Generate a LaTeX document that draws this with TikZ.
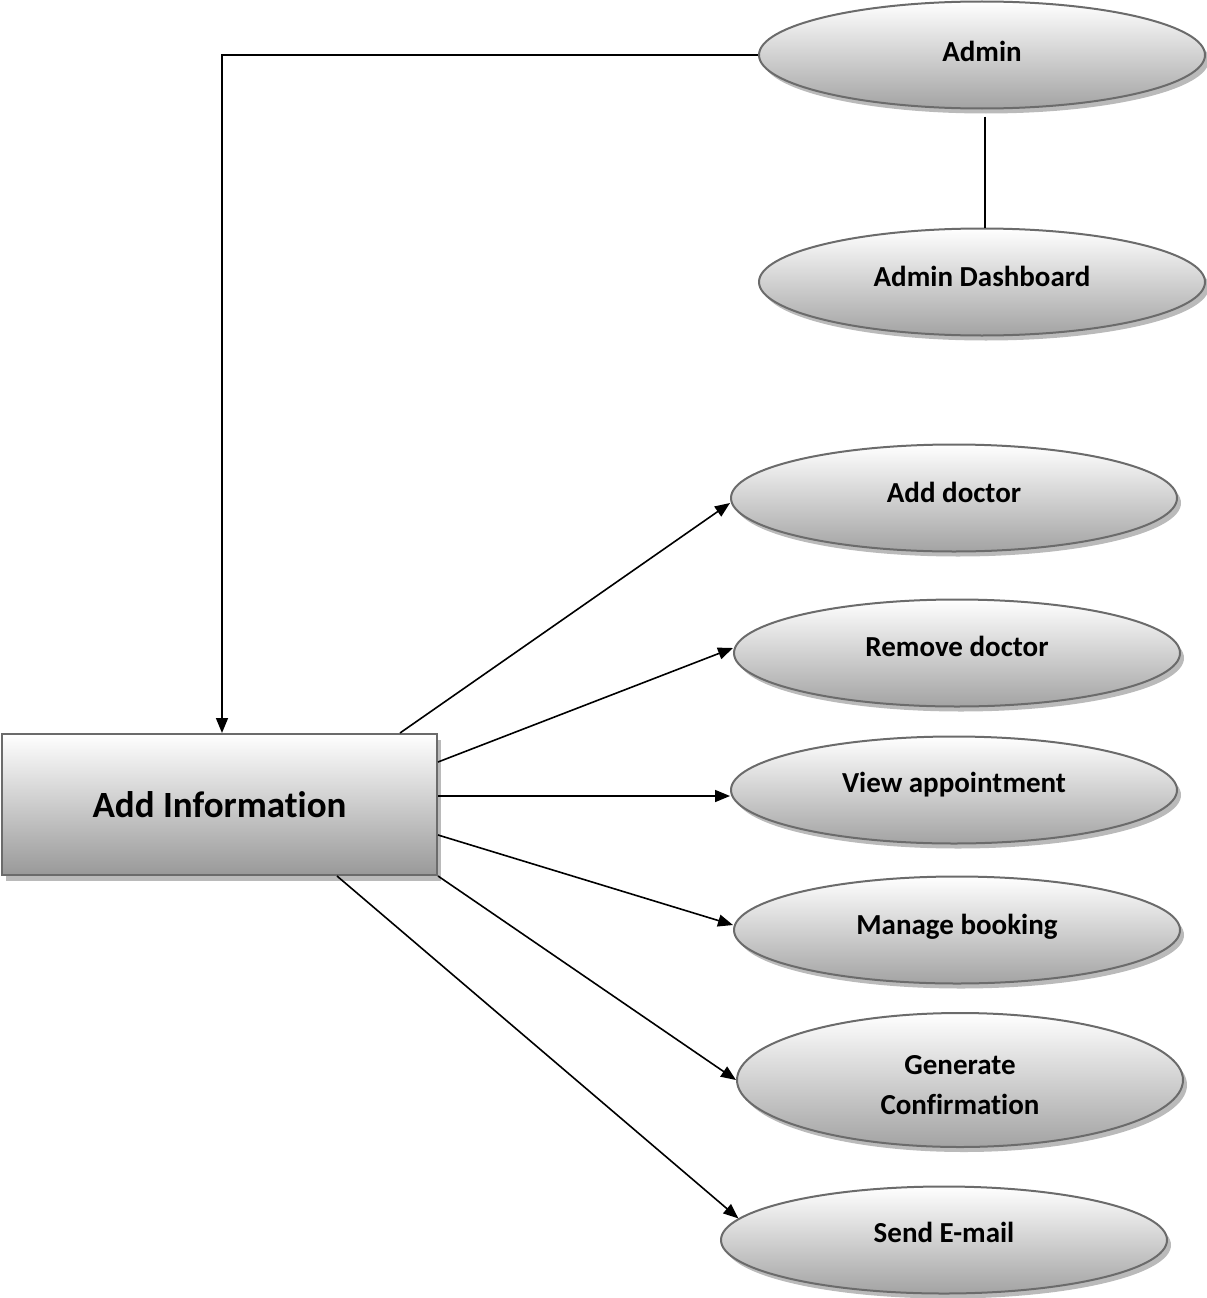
\documentclass[tikz,border=0pt]{standalone}
\usepackage{fontspec}
\setmainfont[Ligatures=NoCommon]{Carlito}
\usetikzlibrary{shapes.geometric,shadows,arrows.meta}

\tikzset{
  usecase/.style={ellipse, draw=black!58, line width=2pt,
    top color=white, bottom color=black!36,
    minimum width=446pt, minimum height=107pt, inner sep=0pt,
    drop shadow={shadow xshift=4pt, shadow yshift=-5pt, fill=black!27, opacity=1}},
  process/.style={rectangle, draw=black!58, line width=2pt,
    top color=white, bottom color=black!40,
    minimum width=435pt, minimum height=141pt, inner sep=0pt,
    font=\fontsize{37}{44}\selectfont\bfseries,
    drop shadow={shadow xshift=4pt, shadow yshift=-6pt, fill=black!27, opacity=1}},
  uctext/.style={anchor=base, align=center, inner sep=0pt,
    font=\fontsize{29}{40}\selectfont\bfseries},
  link/.style={line width=1.6pt, draw=black},
  flow/.style={link, -{Triangle[length=15pt,width=12pt]}}
}

\begin{document}
\begin{tikzpicture}[x=1pt, y=-1pt]
  \useasboundingbox (0,0) rectangle (1207,1298);

  % use-case ellipses
  \node[usecase] (admin)    at (982,55)  {};
  \node[usecase] (dash)     at (982,282) {};
  \node[usecase] (adddoc)   at (954,498) {};
  \node[usecase] (remdoc)   at (957,653) {};
  \node[usecase] (viewapp)  at (954,790) {};
  \node[usecase] (manage)   at (957,930) {};
  \node[usecase, minimum height=134pt] (confirm) at (960,1080) {};
  \node[usecase] (mail)     at (944,1240) {};

  % central process box
  \node[process] (info) at (219.5,804.5) {Add Information};

  % ellipse captions (anchored on the baseline of the last line)
  \node[uctext] (admintxt)   at ([yshift=-7pt]admin.center)   {Admin};
  \node[uctext] (dashtxt)    at ([yshift=-4.5pt]dash.center)  {Admin Dashboard};
  \node[uctext] (adddoctxt)  at ([yshift=-4pt]adddoc.center)  {Add doctor};
  \node[uctext] (remdoctxt)  at ([yshift=-3pt]remdoc.center)  {Remove doctor};
  \node[uctext] (viewtxt)    at ([yshift=-2pt]viewapp.center) {View appointment};
  \node[uctext] (managetxt)  at ([yshift=-4pt]manage.center)  {Manage booking};
  \node[uctext] (conftxt)    at ([yshift=-34pt]confirm.center) {Generate\\Confirmation};
  \node[uctext] (mailtxt)    at ([yshift=-2pt]mail.center)    {Send E-mail};

  % connectors
  \draw[flow] (admin.west) -| ([xshift=2.5pt]info.north);
  \draw[link] ([xshift=3pt,yshift=-7pt]admin.south) -- ([xshift=3pt]dash.north);

  \draw[flow] ([xshift=180.5pt]info.north) -- ([yshift=-5pt]adddoc.west);
  \draw[flow] ([yshift=42.5pt]info.east)   -- ([yshift=5pt]remdoc.west);
  \draw[flow] ([yshift=8.5pt]info.east)    -- ([yshift=-6pt]viewapp.west);
  \draw[flow] ([yshift=-30.5pt]info.east)  -- ([yshift=5pt]manage.west);
  \draw[flow] (info.south east)            -- (confirm.west);
  \draw[flow] ([xshift=117.5pt]info.south) -- (mail.174);
\end{tikzpicture}
\end{document}
